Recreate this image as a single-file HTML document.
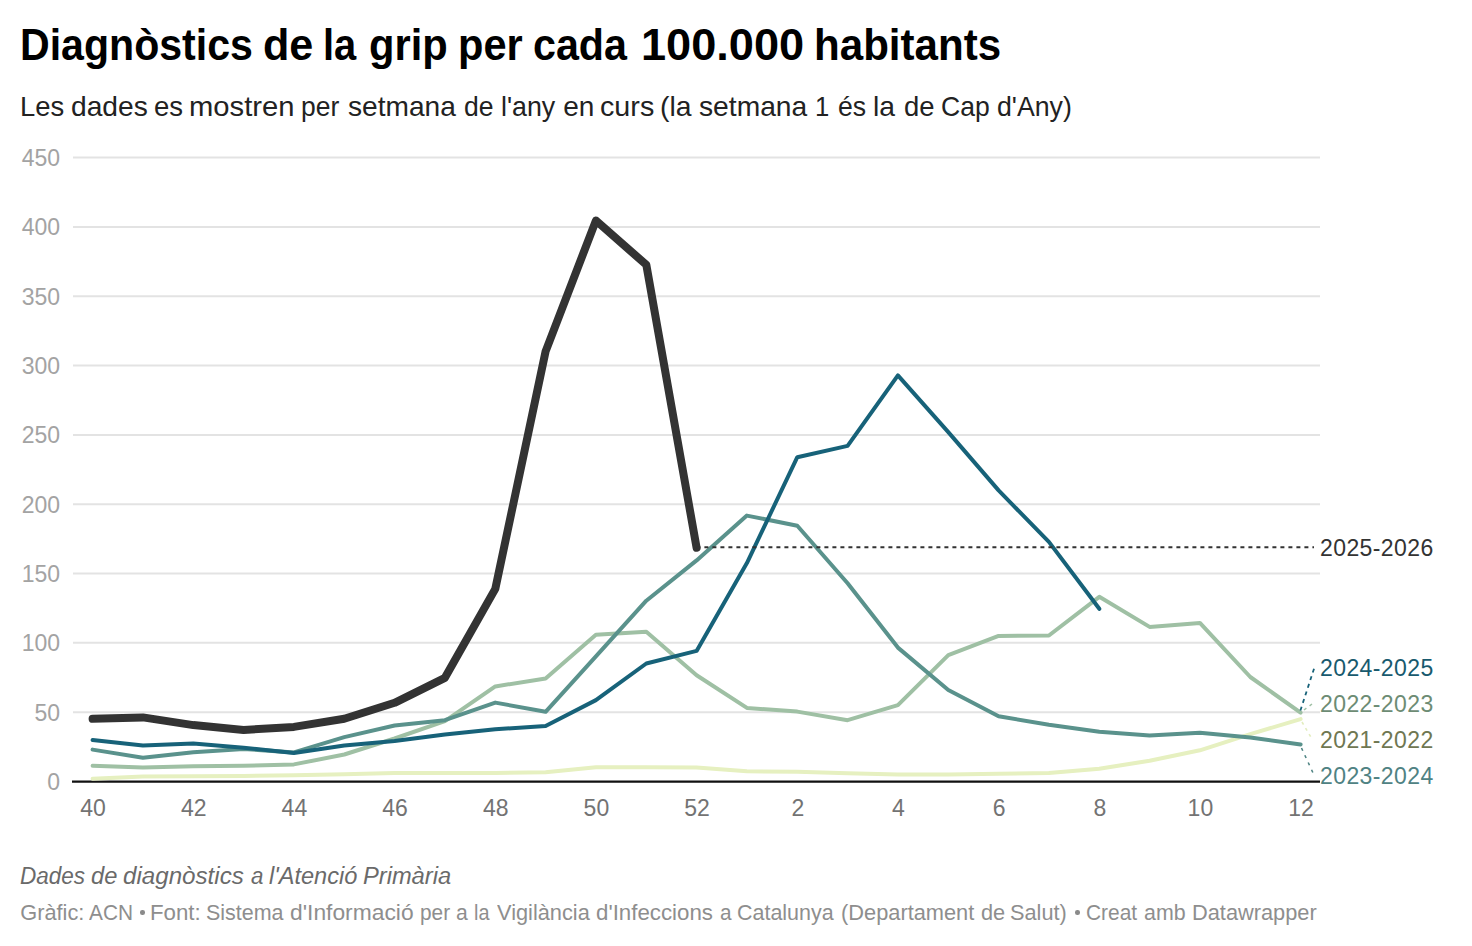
<!DOCTYPE html>
<html><head><meta charset="utf-8">
<style>
html,body{margin:0;padding:0;background:#fff;width:1472px;height:946px;overflow:hidden;position:relative;font-family:"Liberation Sans",sans-serif;}
.t{position:absolute;white-space:nowrap;line-height:1;}
.tw{position:absolute;top:21.7px;font-size:45px;font-weight:bold;color:#000;line-height:1;white-space:nowrap;transform-origin:0 0;}
.sw{position:absolute;top:93px;font-size:28px;color:#222;line-height:1;white-space:nowrap;transform-origin:0 0;}
.yl{position:absolute;left:0;width:60px;text-align:right;font-size:23px;line-height:1;color:#a3a3a3;}
.xl{position:absolute;top:797px;width:80px;text-align:center;font-size:23px;line-height:1;color:#737373;}
.lab{position:absolute;left:1320px;font-size:23px;line-height:1;white-space:nowrap;letter-spacing:0.4px;}
.nw{position:absolute;top:864.5px;font-size:23.3px;font-style:italic;color:#6a6a6a;line-height:1;white-space:nowrap;transform-origin:0 0;}
.rw{position:absolute;top:901.5px;font-size:21.75px;color:#8e8e8e;line-height:1;white-space:nowrap;transform-origin:0 0;}
.bul{position:absolute;top:910.3px;width:4.5px;height:4.5px;border-radius:50%;background:#8a8a8a;}
svg{position:absolute;left:0;top:0;}
</style></head><body>
<svg width="1472" height="946" viewBox="0 0 1472 946">
<line x1="73" y1="712.2" x2="1320" y2="712.2" stroke="#e3e3e3" stroke-width="2"/>
<line x1="73" y1="642.8" x2="1320" y2="642.8" stroke="#e3e3e3" stroke-width="2"/>
<line x1="73" y1="573.5" x2="1320" y2="573.5" stroke="#e3e3e3" stroke-width="2"/>
<line x1="73" y1="504.2" x2="1320" y2="504.2" stroke="#e3e3e3" stroke-width="2"/>
<line x1="73" y1="434.9" x2="1320" y2="434.9" stroke="#e3e3e3" stroke-width="2"/>
<line x1="73" y1="365.5" x2="1320" y2="365.5" stroke="#e3e3e3" stroke-width="2"/>
<line x1="73" y1="296.2" x2="1320" y2="296.2" stroke="#e3e3e3" stroke-width="2"/>
<line x1="73" y1="226.9" x2="1320" y2="226.9" stroke="#e3e3e3" stroke-width="2"/>
<line x1="73" y1="157.5" x2="1320" y2="157.5" stroke="#e3e3e3" stroke-width="2"/>

<line x1="72" y1="781.6" x2="1320" y2="781.6" stroke="#111" stroke-width="2.2"/>
<polyline points="92.6,778.7 142.9,776.6 193.3,776.2 243.6,776.0 293.9,775.3 344.3,774.3 394.6,772.9 444.9,772.9 495.3,772.9 545.6,772.3 595.9,767.2 646.3,767.2 696.6,767.4 746.9,771.2 797.3,771.8 847.6,773.2 897.9,774.6 948.3,774.6 998.6,773.7 1048.9,772.9 1099.3,768.7 1149.6,760.7 1199.9,750.3 1250.3,734.1 1300.6,719.1" fill="none" stroke="#e6f0c0" stroke-width="4" stroke-linejoin="round" stroke-linecap="round"/>
<polyline points="92.6,765.8 142.9,767.6 193.3,766.2 243.6,765.8 293.9,764.4 344.3,754.5 394.6,738.5 444.9,721.2 495.3,686.4 545.6,678.5 595.9,634.7 646.3,631.8 696.6,675.3 746.9,707.9 797.3,711.6 847.6,720.2 897.9,705.2 948.3,655.1 998.6,635.9 1048.9,635.5 1099.3,596.8 1149.6,626.9 1199.9,622.9 1250.3,677.0 1300.6,712.7" fill="none" stroke="#9fc0a4" stroke-width="4" stroke-linejoin="round" stroke-linecap="round"/>
<polyline points="92.6,749.6 142.9,757.7 193.3,752.2 243.6,748.9 293.9,752.4 344.3,737.1 394.6,725.5 444.9,720.2 495.3,702.6 545.6,711.8 595.9,656.3 646.3,600.7 696.6,560.4 746.9,515.6 797.3,525.8 847.6,583.2 897.9,647.6 948.3,690.0 998.6,716.3 1048.9,724.8 1099.3,731.7 1149.6,735.6 1199.9,732.8 1250.3,737.4 1300.6,744.5" fill="none" stroke="#5a928c" stroke-width="4" stroke-linejoin="round" stroke-linecap="round"/>
<polyline points="92.6,740.0 142.9,745.5 193.3,743.5 243.6,747.7 293.9,753.1 344.3,745.5 394.6,740.9 444.9,734.4 495.3,729.2 545.6,726.0 595.9,700.1 646.3,663.5 696.6,650.9 746.9,563.1 797.3,457.2 847.6,445.9 897.9,375.4 948.3,432.1 998.6,490.4 1048.9,541.9 1099.3,608.8" fill="none" stroke="#176279" stroke-width="4" stroke-linejoin="round" stroke-linecap="round"/>
<polyline points="92.6,718.8 142.9,717.4 193.3,725.1 243.6,729.9 293.9,726.9 344.3,718.8 394.6,702.8 444.9,677.8 495.3,588.9 545.6,351.4 595.9,220.6 646.3,264.8 696.6,547.8" fill="none" stroke="#333333" stroke-width="8" stroke-linejoin="round" stroke-linecap="round"/>
<line x1="696.4" y1="547.2" x2="1314" y2="547.2" stroke="#333" stroke-width="2" stroke-dasharray="4 4"/>
<line x1="1300.4" y1="710.5" x2="1314.4" y2="667.5" stroke="#176279" stroke-width="1.8" stroke-dasharray="4 4"/>
<line x1="1304" y1="710" x2="1314" y2="702.5" stroke="#9fc0a4" stroke-width="1.5" stroke-dasharray="3 4"/>
<line x1="1302" y1="722" x2="1312" y2="739" stroke="#e3edbf" stroke-width="1.6" stroke-dasharray="3 4"/>
<line x1="1301.5" y1="748" x2="1314.2" y2="775.5" stroke="#4f8483" stroke-width="1.6" stroke-dasharray="3 5"/>
</svg>
<div class="tw" style="left:19.96px;transform:scaleX(0.9132)">Diagnòstics</div><div class="tw" style="left:263.08px;transform:scaleX(0.9592)">de</div><div class="tw" style="left:323.34px;transform:scaleX(0.8857)">la</div><div class="tw" style="left:369.15px;transform:scaleX(0.9259)">grip</div><div class="tw" style="left:458.23px;transform:scaleX(0.9242)">per</div><div class="tw" style="left:533.17px;transform:scaleX(0.9158)">cada</div><div class="tw" style="left:640.99px;transform:scaleX(1.0032)">100.000</div><div class="tw" style="left:813.69px;transform:scaleX(0.9359)">habitants</div>
<div class="sw" style="left:20.04px;transform:scaleX(0.9786)">Les</div><div class="sw" style="left:71.19px;transform:scaleX(1.0068)">dades</div><div class="sw" style="left:153.82px;transform:scaleX(0.9821)">es</div><div class="sw" style="left:189.32px;transform:scaleX(1.0423)">mostren</div><div class="sw" style="left:300.51px;transform:scaleX(0.9447)">per</div><div class="sw" style="left:348.3px;transform:scaleX(1.0038)">setmana</div><div class="sw" style="left:464.35px;transform:scaleX(0.9483)">de</div><div class="sw" style="left:501.09px;transform:scaleX(0.9564)">l'any</div><div class="sw" style="left:563.3px;transform:scaleX(1.0)">en</div><div class="sw" style="left:599.87px;transform:scaleX(1.0255)">curs</div><div class="sw" style="left:660.38px;transform:scaleX(1.0103)">(la</div><div class="sw" style="left:699.49px;transform:scaleX(1.0075)">setmana</div><div class="sw" style="left:815.47px;transform:scaleX(0.9167)">1</div><div class="sw" style="left:838.35px;transform:scaleX(0.95)">és</div><div class="sw" style="left:873.08px;transform:scaleX(1.01)">la</div><div class="sw" style="left:903.52px;transform:scaleX(0.9793)">de</div><div class="sw" style="left:941.45px;transform:scaleX(0.9469)">Cap</div><div class="sw" style="left:997.05px;transform:scaleX(0.9539)">d'Any)</div>
<div class="yl" style="top:771.0px">0</div>
<div class="yl" style="top:701.7px">50</div>
<div class="yl" style="top:632.3px">100</div>
<div class="yl" style="top:563.0px">150</div>
<div class="yl" style="top:493.7px">200</div>
<div class="yl" style="top:424.4px">250</div>
<div class="yl" style="top:355.0px">300</div>
<div class="yl" style="top:285.7px">350</div>
<div class="yl" style="top:216.4px">400</div>
<div class="yl" style="top:147.0px">450</div>

<div class="xl" style="left:53.1px">40</div>
<div class="xl" style="left:153.8px">42</div>
<div class="xl" style="left:254.4px">44</div>
<div class="xl" style="left:355.1px">46</div>
<div class="xl" style="left:455.8px">48</div>
<div class="xl" style="left:556.4px">50</div>
<div class="xl" style="left:657.1px">52</div>
<div class="xl" style="left:757.8px">2</div>
<div class="xl" style="left:858.4px">4</div>
<div class="xl" style="left:959.1px">6</div>
<div class="xl" style="left:1059.8px">8</div>
<div class="xl" style="left:1160.4px">10</div>
<div class="xl" style="left:1261.1px">12</div>

<div class="lab" style="top:537px;color:#333">2025-2026</div>
<div class="lab" style="top:657px;color:#185a6e">2024-2025</div>
<div class="lab" style="top:693px;color:#6d8c74">2022-2023</div>
<div class="lab" style="top:729px;color:#6f7752">2021-2022</div>
<div class="lab" style="top:765px;color:#4f8283">2023-2024</div>
<div class="nw" style="left:19.83px;transform:scaleX(0.9667)">Dades</div><div class="nw" style="left:91.18px;transform:scaleX(1.0167)">de</div><div class="nw" style="left:123.26px;transform:scaleX(1.0365)">diagnòstics</div><div class="nw" style="left:251.0px;transform:scaleX(0.9583)">a</div><div class="nw" style="left:269.4px;transform:scaleX(1.0103)">l'Atenció</div><div class="nw" style="left:363.18px;transform:scaleX(1.0153)">Primària</div>
<div class="rw" style="left:20.3px;transform:scaleX(1.0)">Gràfic:</div><div class="rw" style="left:89.4px;transform:scaleX(0.9591)">ACN</div><div class="rw" style="left:150.15px;transform:scaleX(1.0239)">Font:</div><div class="rw" style="left:205.71px;transform:scaleX(0.9859)">Sistema</div><div class="rw" style="left:290.15px;transform:scaleX(1.0491)">d'Informació</div><div class="rw" style="left:419.74px;transform:scaleX(0.9567)">per</div><div class="rw" style="left:455.63px;transform:scaleX(0.9727)">a</div><div class="rw" style="left:473.59px;transform:scaleX(0.9125)">la</div><div class="rw" style="left:496.9px;transform:scaleX(1.0011)">Vigilància</div><div class="rw" style="left:596.38px;transform:scaleX(1.0241)">d'Infeccions</div><div class="rw" style="left:719.65px;transform:scaleX(0.9545)">a</div><div class="rw" style="left:736.91px;transform:scaleX(0.9866)">Catalunya</div><div class="rw" style="left:841.1px;transform:scaleX(1.0023)">(Departament</div><div class="rw" style="left:981.0px;transform:scaleX(1.0)">de</div><div class="rw" style="left:1010.3px;transform:scaleX(0.9982)">Salut)</div><div class="rw" style="left:1085.84px;transform:scaleX(0.9615)">Creat</div><div class="rw" style="left:1143.72px;transform:scaleX(0.9829)">amb</div><div class="rw" style="left:1192.0px;transform:scaleX(1.0016)">Datawrapper</div>
<div class="bul" style="left:140.1px"></div><div class="bul" style="left:1075.2px"></div>
</body></html>
